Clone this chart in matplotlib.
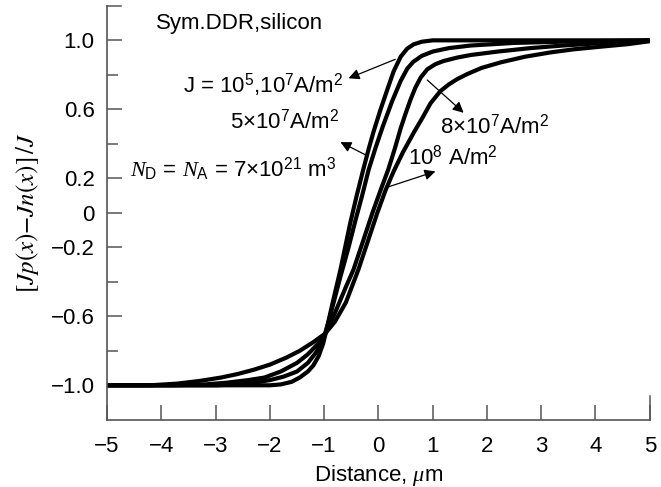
import matplotlib
matplotlib.use("Agg")
import matplotlib.pyplot as plt

plt.rcParams["font.family"] = ["Liberation Sans", "DejaVu Sans"]
plt.rcParams["font.size"] = 16
plt.rcParams["mathtext.fontset"] = "custom"
plt.rcParams["mathtext.rm"] = "Liberation Sans"
plt.rcParams["mathtext.it"] = "Liberation Serif:italic"
plt.rcParams["mathtext.sf"] = "Liberation Sans"
plt.rcParams["mathtext.bf"] = "Liberation Sans:bold"

# J = 1e5, 1e7 A/m^2 (steepest)
x_a = [-5, -2.0, -1.8, -1.6, -1.45, -1.3, -1.2, -1.1, -1.02, -0.95, -0.85, -0.7,
       -0.52, -0.4, -0.28, -0.18, -0.09, 0.04, 0.17, 0.28, 0.41, 0.53, 0.65,
       0.8, 1.0, 5]
y_a = [-1.0, -1.0, -0.995, -0.98, -0.955, -0.92, -0.885, -0.83, -0.76, -0.67,
       -0.53, -0.33, -0.06, 0.1, 0.25, 0.37, 0.47, 0.6, 0.72, 0.82, 0.905,
       0.952, 0.977, 0.992, 1.0, 1.0]

# 5e7 A/m^2
x_b = [-5, -3.0, -2.6, -2.3, -2.0, -1.75, -1.5, -1.3, -1.15, -1.02, -0.9, -0.7,
       -0.55, -0.42, -0.3, -0.18, -0.05, 0.08, 0.25, 0.41, 0.53, 0.64, 0.8, 1.0,
       1.3, 1.7, 2.5, 3.5, 5]
y_b = [-1.0, -1.0, -0.995, -0.985, -0.97, -0.95, -0.92, -0.87, -0.81, -0.74,
       -0.61, -0.37, -0.2, -0.04, 0.1, 0.25, 0.38, 0.5, 0.645, 0.765, 0.835,
       0.875, 0.91, 0.935, 0.955, 0.97, 0.985, 0.993, 1.0]

# 8e7 A/m^2
x_c = [-5, -3.8, -3.2, -2.8, -2.4, -2.1, -1.8, -1.5, -1.3, -1.1, -0.98, -0.8,
       -0.6, -0.46, -0.3, -0.11, 0.05, 0.18, 0.3, 0.41, 0.5, 0.59, 0.68, 0.78,
       0.9, 1.05, 1.2, 1.45, 1.7, 2.2, 2.8, 3.4, 4.0, 4.5, 5]
y_c = [-1.0, -1.0, -0.995, -0.985, -0.97, -0.955, -0.92, -0.87, -0.82, -0.755,
       -0.70, -0.58, -0.43, -0.33, -0.18, 0.0, 0.14, 0.25, 0.37, 0.49, 0.575,
       0.655, 0.725, 0.785, 0.832, 0.862, 0.88, 0.9, 0.915, 0.935, 0.955, 0.97,
       0.982, 0.99, 1.0]

# 1e8 A/m^2
x_d = [-5, -4.2, -3.7, -3.3, -2.9, -2.6, -2.3, -2.0, -1.7, -1.45, -1.2, -0.98,
       -0.8, -0.6, -0.37, -0.2, -0.02, 0.13, 0.28, 0.45, 0.66, 0.81, 0.96, 1.14,
       1.3, 1.45, 1.64, 1.9, 2.25, 2.7, 3.17, 3.6, 4.09, 4.6, 5]
y_d = [-1.0, -1.0, -0.99, -0.975, -0.955, -0.935, -0.91, -0.88, -0.84, -0.8,
       -0.75, -0.70, -0.63, -0.52, -0.33, -0.17, 0.0, 0.13, 0.24, 0.35, 0.47,
       0.55, 0.635, 0.705, 0.745, 0.775, 0.805, 0.84, 0.872, 0.905, 0.93, 0.948,
       0.963, 0.978, 0.995]

x_ticks = [-5, -4, -3, -2, -1, 0, 1, 2, 3, 4, 5]
y_ticks = [-1.0, -0.6, -0.2, 0, 0.2, 0.6, 1.0]
y_tick_labels = ["\u22121.0", "\u22120.6", "\u22120.2", "0", "0.2", "0.6", "1.0"]
y_minor = [-0.8, -0.4, 0.4, 0.8]


def main():
    fig = plt.figure(figsize=(6.61, 4.87), dpi=100)
    ax = fig.add_axes([0.162, 0.138, 0.821, 0.85])

    for xs, ys in [(x_a, y_a), (x_b, y_b), (x_c, y_c), (x_d, y_d)]:
        ax.plot(xs, ys, color="black", lw=3, solid_capstyle="butt",
                solid_joinstyle="round")

    ax.set_xlim(-5, 5)
    ax.set_ylim(-1.2, 1.2)
    ax.set_xticks(x_ticks)
    ax.set_xticklabels(["\u2212%d" % -t if t < 0 else "%d" % t for t in x_ticks])
    ax.set_yticks(y_ticks)
    ax.set_yticklabels(y_tick_labels)
    ax.set_yticks(y_minor, minor=True)

    for side in ["top", "right"]:
        ax.spines[side].set_visible(False)
    for side in ["left", "bottom"]:
        ax.spines[side].set_color("#555555")
        ax.spines[side].set_linewidth(1.2)
    ax.tick_params(which="major", direction="in", length=11, width=1.1,
                   color="#555555", pad=9)
    ax.tick_params(which="minor", direction="in", length=8, width=1.1,
                   color="#555555")
    ax.tick_params(axis="x", pad=12)
    # longer end ticks at the top of the y axis and the right end of the x axis
    ax.plot([-5, -4.75], [1.2, 1.2], color="#555555", lw=1.1, clip_on=False)
    ax.plot([5, 5], [-1.2, -1.06], color="#555555", lw=1.1, clip_on=False)

    ax.set_xlabel(r"Distance, $\mu$m", labelpad=4)
    ax.set_ylabel(r"$[Jp(x){-}Jn(x)]\,/J$", math_fontfamily="stix",
                  fontsize=18, labelpad=7)

    ax.text(-4.1, 1.095, "Sym.DDR,silicon", va="center", ha="left")
    ax.text(-3.61, 0.74, r"J = 10$^5$,10$^7$A/m$^2$", va="center", ha="left")
    ax.text(-2.73, 0.53, r"5$\times$10$^7$A/m$^2$", va="center", ha="left")
    ax.text(-4.57, 0.25, r"$N_{\mathrm{D}}$ = $N_{\mathrm{A}}$ = 7$\times$10$^{21}$ m$^3$",
            va="center", ha="left")
    ax.text(1.14, 0.50, r"8$\times$10$^7$A/m$^2$", va="center", ha="left")
    ax.text(0.55, 0.32, r"10$^8$ A/m$^2$", va="center", ha="left")

    arrow = dict(arrowstyle="-|>", color="black", lw=0.9, mutation_scale=16,
                 shrinkA=0, shrinkB=0)
    ax.annotate("", xy=(-0.55, 0.78), xytext=(0.31, 0.89), arrowprops=arrow)
    ax.annotate("", xy=(-0.70, 0.41), xytext=(-0.2, 0.33), arrowprops=arrow)
    ax.annotate("", xy=(1.57, 0.58), xytext=(0.90, 0.77), arrowprops=arrow)
    ax.annotate("", xy=(1.05, 0.24), xytext=(0.13, 0.145), arrowprops=arrow)

    fig.savefig("out.png", dpi=100)


if __name__ == "__main__":
    main()
